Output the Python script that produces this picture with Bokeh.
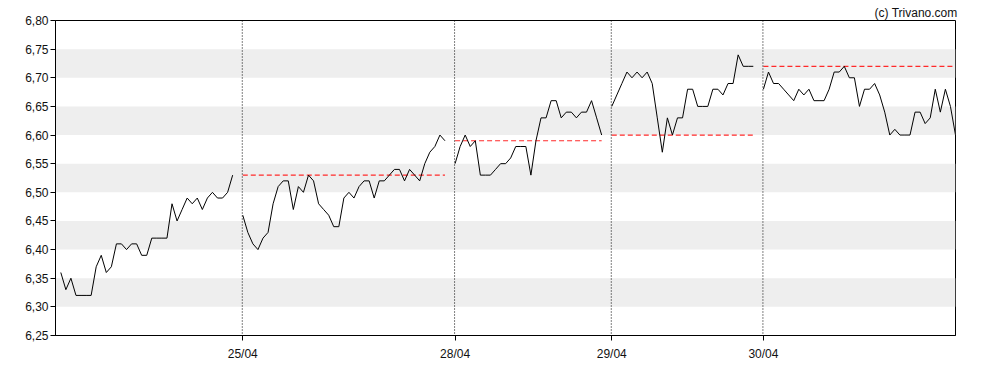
import numpy as np
from bokeh.plotting import figure
from bokeh.models import (Range1d, FixedTicker, CustomJSTickFormatter, BoxAnnotation,
                          Span, ColumnDataSource)
from bokeh.embed import file_html
from bokeh.resources import INLINE

# ---- data ----
day_labels = ["24/04", "25/04", "28/04", "29/04", "30/04"]
day1 = [6.36, 6.33, 6.35, 6.32, 6.32, 6.32, 6.32, 6.37, 6.39, 6.36, 6.37, 6.41, 6.41, 6.40,
        6.41, 6.41, 6.39, 6.39, 6.42, 6.42, 6.42, 6.42, 6.48, 6.45, 6.47, 6.49, 6.48, 6.49,
        6.47, 6.49, 6.50, 6.49, 6.49, 6.50, 6.53]
day2 = [6.46, 6.43, 6.41, 6.40, 6.42, 6.43, 6.48, 6.51, 6.52, 6.52, 6.47, 6.51, 6.50, 6.53,
        6.52, 6.48, 6.47, 6.46, 6.44, 6.44, 6.49, 6.50, 6.49, 6.51, 6.52, 6.52, 6.49, 6.52,
        6.52, 6.53, 6.54, 6.54, 6.52, 6.54, 6.53, 6.52, 6.55, 6.57, 6.58, 6.60, 6.59]
day3 = [6.55, 6.58, 6.60, 6.58, 6.59, 6.53, 6.53, 6.53, 6.54, 6.55, 6.55, 6.56, 6.58, 6.58,
        6.58, 6.53, 6.59, 6.63, 6.63, 6.66, 6.66, 6.63, 6.64, 6.64, 6.63, 6.64, 6.64, 6.66,
        6.63, 6.60]
day4 = [6.65, 6.67, 6.69, 6.71, 6.70, 6.71, 6.70, 6.71, 6.69, 6.63, 6.57, 6.63, 6.60, 6.63,
        6.63, 6.68, 6.68, 6.65, 6.65, 6.65, 6.68, 6.68, 6.67, 6.69, 6.69, 6.74, 6.72, 6.72,
        6.72]
day5 = [6.68, 6.71, 6.69, 6.69, 6.68, 6.67, 6.66, 6.68, 6.67, 6.68, 6.66, 6.66, 6.66, 6.68,
        6.71, 6.71, 6.72, 6.70, 6.70, 6.65, 6.68, 6.68, 6.69, 6.67, 6.64, 6.60, 6.61, 6.60,
        6.60, 6.60, 6.64, 6.64, 6.62, 6.63, 6.68, 6.64, 6.68, 6.65, 6.60]
days = [day1, day2, day3, day4, day5]
y_ticks = [6.25, 6.30, 6.35, 6.40, 6.45, 6.50, 6.55, 6.60, 6.65, 6.70, 6.75, 6.80]
copyright_text = "(c) Trivano.com"

# ---- build index positions (one empty slot between sessions) ----
xs, ys, starts, ends = [], [], [], []
pos = 0
for d in days:
    starts.append(pos)
    for v in d:
        xs.append(pos)
        ys.append(v)
        pos += 1
    ends.append(pos - 1)
    xs.append(np.nan)
    ys.append(np.nan)
    pos += 1
last_x = ends[-1]

font = "Liberation Sans"
fs = "12px"

p = figure(width=988, height=370, output_backend="svg", toolbar_location=None,
           x_range=Range1d(-1.05, last_x), y_range=Range1d(y_ticks[0], y_ticks[-1]),
           min_border_left=55, min_border_right=33, min_border_top=20, min_border_bottom=35,
           title=copyright_text)
p.title.align = "right"
p.title.text_font = font
p.title.text_font_size = fs
p.title.text_font_style = "normal"
p.title.text_color = "#111111"
p.title.standoff = 2
p.title.offset = -2
p.background_fill_color = "white"
p.border_fill_color = "white"
p.outline_line_color = "black"
p.outline_line_width = 1
p.xgrid.visible = False
p.ygrid.visible = False

# alternating bands
for i in range(1, len(y_ticks) - 1, 2):
    p.add_layout(BoxAnnotation(bottom=y_ticks[i], top=y_ticks[i + 1],
                               fill_color="#eeeeee", fill_alpha=1.0, line_color=None,
                               level="underlay"))

# session separators
for s in starts[1:]:
    p.add_layout(Span(location=s - 0.1, dimension="height", line_color="black",
                      line_width=1, line_dash="1 2"))

# previous close reference lines
seg = ColumnDataSource(dict(
    x0=starts[1:], x1=ends[1:],
    y=[d[-1] for d in days[:-1]]))
p.segment(x0="x0", x1="x1", y0="y", y1="y", source=seg, line_color="#ff2a2a",
          line_width=1.2, line_dash="5 3")

p.line(xs, ys, line_color="black", line_width=1)

p.yaxis.ticker = FixedTicker(ticks=y_ticks)
p.yaxis.formatter = CustomJSTickFormatter(code="return tick.toFixed(2).replace('.', ',');")
p.xaxis.ticker = FixedTicker(ticks=starts[1:])
p.xaxis.major_label_overrides = {s: lab for s, lab in zip(starts[1:], day_labels[1:])}
for ax in (p.xaxis[0], p.yaxis[0]):
    ax.axis_line_color = "black"
    ax.major_tick_line_color = "black"
    ax.minor_tick_line_color = None
    ax.major_tick_in = 0
    ax.major_tick_out = 5
    ax.major_label_text_font = font
    ax.major_label_text_font_size = fs
    ax.major_label_text_color = "#111111"
p.yaxis.major_label_standoff = 2
p.xaxis.major_label_standoff = 6

open("out.html", "w").write(file_html(p, INLINE))
